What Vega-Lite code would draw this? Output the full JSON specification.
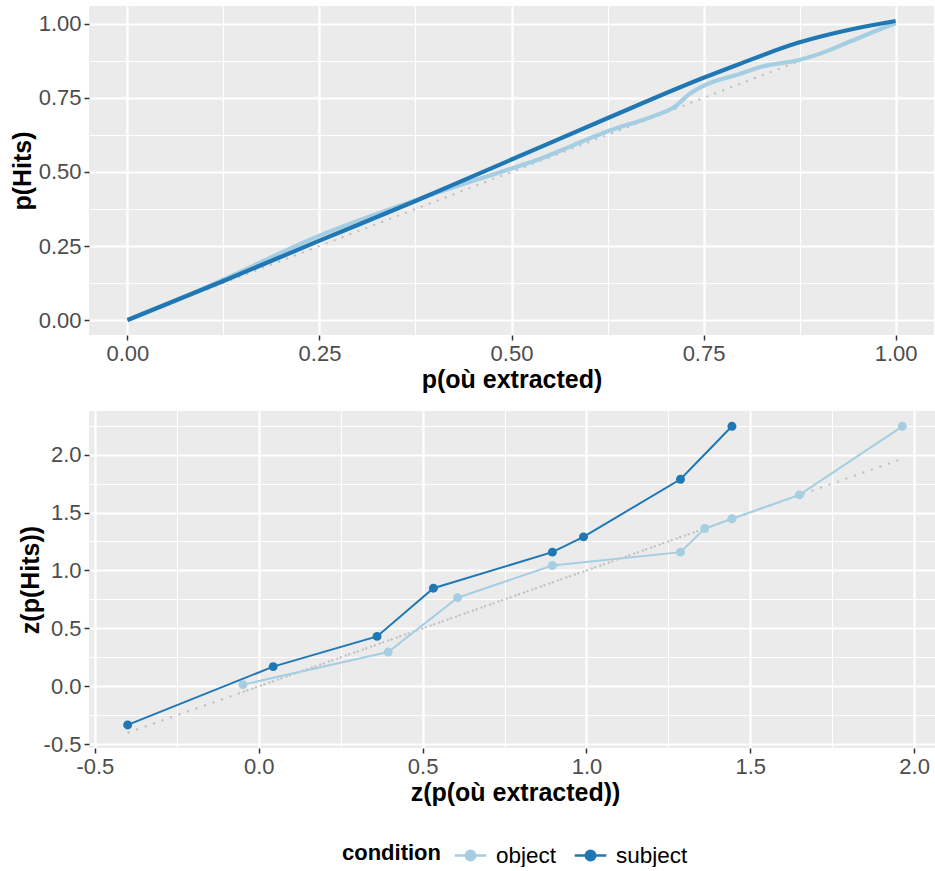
{
  "$schema": "https://vega.github.io/schema/vega-lite/v6.json",
  "padding": {"left": 10, "top": 6, "right": 0, "bottom": 0},
  "background": "white",
  "datasets": {
    "roc": [
      {"condition": "object", "x": 0.0, "y": 0.0},
      {"condition": "object", "x": 0.0625, "y": 0.066},
      {"condition": "object", "x": 0.125, "y": 0.137},
      {"condition": "object", "x": 0.25, "y": 0.285},
      {"condition": "object", "x": 0.375, "y": 0.405},
      {"condition": "object", "x": 0.5, "y": 0.512},
      {"condition": "object", "x": 0.536, "y": 0.543},
      {"condition": "object", "x": 0.58, "y": 0.59},
      {"condition": "object", "x": 0.627, "y": 0.639},
      {"condition": "object", "x": 0.683, "y": 0.687},
      {"condition": "object", "x": 0.714, "y": 0.723},
      {"condition": "object", "x": 0.731, "y": 0.762},
      {"condition": "object", "x": 0.75, "y": 0.791},
      {"condition": "object", "x": 0.796, "y": 0.83},
      {"condition": "object", "x": 0.822, "y": 0.853},
      {"condition": "object", "x": 0.874, "y": 0.878},
      {"condition": "object", "x": 0.9, "y": 0.898},
      {"condition": "object", "x": 0.943, "y": 0.943},
      {"condition": "object", "x": 0.974, "y": 0.976},
      {"condition": "object", "x": 1.0, "y": 1.002},
      {"condition": "subject", "x": 0.0, "y": 0.0},
      {"condition": "subject", "x": 0.125, "y": 0.132},
      {"condition": "subject", "x": 0.25, "y": 0.268},
      {"condition": "subject", "x": 0.375, "y": 0.402},
      {"condition": "subject", "x": 0.5, "y": 0.542},
      {"condition": "subject", "x": 0.627, "y": 0.684},
      {"condition": "subject", "x": 0.75, "y": 0.818},
      {"condition": "subject", "x": 0.796, "y": 0.864},
      {"condition": "subject", "x": 0.874, "y": 0.937},
      {"condition": "subject", "x": 0.943, "y": 0.982},
      {"condition": "subject", "x": 1.0, "y": 1.01}
    ],
    "diag": [
      {"x": 0.0, "y": 0.0},
      {"x": 1.0, "y": 1.0}
    ],
    "zroc": [
      {"condition": "object", "x": -0.048, "y": 0.015},
      {"condition": "object", "x": 0.395, "y": 0.296},
      {"condition": "object", "x": 0.607, "y": 0.765},
      {"condition": "object", "x": 0.896, "y": 1.043},
      {"condition": "object", "x": 1.287, "y": 1.158},
      {"condition": "object", "x": 1.361, "y": 1.362},
      {"condition": "object", "x": 1.444, "y": 1.446},
      {"condition": "object", "x": 1.65, "y": 1.652},
      {"condition": "object", "x": 1.964, "y": 2.244},
      {"condition": "subject", "x": -0.4, "y": -0.333},
      {"condition": "subject", "x": 0.044, "y": 0.17},
      {"condition": "subject", "x": 0.361, "y": 0.431},
      {"condition": "subject", "x": 0.533, "y": 0.847},
      {"condition": "subject", "x": 0.896, "y": 1.158},
      {"condition": "subject", "x": 0.991, "y": 1.29},
      {"condition": "subject", "x": 1.287, "y": 1.787},
      {"condition": "subject", "x": 1.444, "y": 2.244}
    ],
    "zdiag": [
      {"condition": "subject", "x": -0.4, "y": -0.4},
      {"condition": "subject", "x": 1.444, "y": 1.444},
      {"condition": "object", "x": -0.048, "y": -0.048},
      {"condition": "object", "x": 1.964, "y": 1.964}
    ]
  },
  "columns": 1,
  "align": "none",
  "spacing": 19,
  "resolve": {"scale": {"color": "shared"}},
  "concat": [
    {
      "width": 845,
      "height": 329,
      "encoding": {
        "x": {
          "field": "x", "type": "quantitative",
          "scale": {"domain": [-0.05, 1.05], "nice": false, "zero": false},
          "axis": {
            "title": "p(où extracted)",
            "values": [0, 0.125, 0.25, 0.375, 0.5, 0.625, 0.75, 0.875, 1.0],
            "labelExpr": "abs(datum.value*4 - round(datum.value*4)) < 0.001 ? format(datum.value, '.2f') : ''",
            "gridWidth": {"condition": {"test": "abs(datum.value*4 - round(datum.value*4)) < 0.001", "value": 2.2}, "value": 1.1},
            "tickOpacity": {"condition": {"test": "abs(datum.value*4 - round(datum.value*4)) < 0.001", "value": 1}, "value": 0}
          }
        },
        "y": {
          "field": "y", "type": "quantitative",
          "scale": {"domain": [-0.0505, 1.0605], "nice": false, "zero": false},
          "axis": {
            "title": "p(Hits)",
            "values": [0, 0.125, 0.25, 0.375, 0.5, 0.625, 0.75, 0.875, 1.0],
            "labelExpr": "abs(datum.value*4 - round(datum.value*4)) < 0.001 ? format(datum.value, '.2f') : ''",
            "gridWidth": {"condition": {"test": "abs(datum.value*4 - round(datum.value*4)) < 0.001", "value": 2.2}, "value": 1.1},
            "tickOpacity": {"condition": {"test": "abs(datum.value*4 - round(datum.value*4)) < 0.001", "value": 1}, "value": 0}
          }
        }
      },
      "layer": [
        {
          "data": {"name": "diag"},
          "mark": {"type": "line", "color": "#bdbdbd", "strokeWidth": 2, "strokeDash": [2, 6.5]},
          "encoding": {}
        },
        {
          "data": {"name": "roc"},
          "mark": {"type": "line", "strokeWidth": 4.2, "interpolate": "monotone"},
          "encoding": {
            "color": {
              "field": "condition", "type": "nominal",
              "scale": {"domain": ["object", "subject"], "range": ["#a6cee3", "#1f78b4"]},
              "legend": {
                "orient": "none", "legendX": 253, "legendY": 832, "direction": "horizontal",
                "title": "condition", "titleOrient": "left", "titleBaseline": "middle",
                "symbolType": "M-1,0H1M0.3,0A0.3,0.3,0,1,1,-0.3,0A0.3,0.3,0,1,1,0.3,0Z",
                "symbolSize": 1000, "symbolStrokeWidth": 2.5
              }
            }
          }
        }
      ]
    },
    {
      "width": 852,
      "height": 337,
      "encoding": {
        "x": {
          "field": "x", "type": "quantitative",
          "scale": {"domain": [-0.518, 2.082], "nice": false, "zero": false},
          "axis": {
            "title": "z(p(où extracted))",
            "values": [-0.5, -0.25, 0, 0.25, 0.5, 0.75, 1.0, 1.25, 1.5, 1.75, 2.0],
            "labelExpr": "abs(datum.value*2 - round(datum.value*2)) < 0.001 ? (datum.value < 0 ? '-' + format(-datum.value, '.1f') : format(datum.value, '.1f')) : ''",
            "gridWidth": {"condition": {"test": "abs(datum.value*2 - round(datum.value*2)) < 0.001", "value": 2.2}, "value": 1.1},
            "tickOpacity": {"condition": {"test": "abs(datum.value*2 - round(datum.value*2)) < 0.001", "value": 1}, "value": 0}
          }
        },
        "y": {
          "field": "y", "type": "quantitative",
          "scale": {"domain": [-0.532, 2.376], "nice": false, "zero": false},
          "axis": {
            "title": "z(p(Hits))",
            "titlePadding": 0,
            "values": [-0.5, -0.25, 0, 0.25, 0.5, 0.75, 1.0, 1.25, 1.5, 1.75, 2.0, 2.25],
            "labelExpr": "abs(datum.value*2 - round(datum.value*2)) < 0.001 ? (datum.value < 0 ? '-' + format(-datum.value, '.1f') : format(datum.value, '.1f')) : ''",
            "gridWidth": {"condition": {"test": "abs(datum.value*2 - round(datum.value*2)) < 0.001", "value": 2.2}, "value": 1.1},
            "tickOpacity": {"condition": {"test": "abs(datum.value*2 - round(datum.value*2)) < 0.001", "value": 1}, "value": 0}
          }
        }
      },
      "layer": [
        {
          "data": {"name": "zdiag"},
          "mark": {"type": "line", "color": "#bdbdbd", "strokeWidth": 2, "strokeDash": [2, 7]},
          "encoding": {"detail": {"field": "condition", "type": "nominal"}}
        },
        {
          "data": {"name": "zroc"},
          "mark": {"type": "line", "strokeWidth": 2},
          "encoding": {
            "color": {
              "field": "condition", "type": "nominal",
              "scale": {"domain": ["object", "subject"], "range": ["#a6cee3", "#1f78b4"]},
              "legend": {
                "orient": "none", "legendX": 253, "legendY": 832, "direction": "horizontal",
                "title": "condition", "titleOrient": "left", "titleBaseline": "middle",
                "symbolType": "M-1,0H1M0.3,0A0.3,0.3,0,1,1,-0.3,0A0.3,0.3,0,1,1,0.3,0Z",
                "symbolSize": 1000, "symbolStrokeWidth": 2.5
              }
            }
          }
        },
        {
          "data": {"name": "zroc"},
          "mark": {"type": "point", "filled": true, "size": 80, "opacity": 1},
          "encoding": {
            "color": {
              "field": "condition", "type": "nominal",
              "scale": {"domain": ["object", "subject"], "range": ["#a6cee3", "#1f78b4"]},
              "legend": {
                "orient": "none", "legendX": 253, "legendY": 832, "direction": "horizontal",
                "title": "condition", "titleOrient": "left", "titleBaseline": "middle",
                "symbolType": "M-1,0H1M0.3,0A0.3,0.3,0,1,1,-0.3,0A0.3,0.3,0,1,1,0.3,0Z",
                "symbolSize": 1000, "symbolStrokeWidth": 2.5
              }
            }
          }
        }
      ]
    }
  ],
  "config": {
    "font": "Liberation Sans",
    "view": {"fill": "#ebebeb", "stroke": null},
    "axis": {
      "domain": false,
      "gridColor": "#ffffff",
      "tickColor": "#333333",
      "tickSize": 5,
      "tickWidth": 1.5,
      "labelColor": "#4d4d4d",
      "labelFont": "Liberation Sans",
      "labelFontSize": 22,
      "labelPadding": 3,
      "labelOverlap": false,
      "labelFlush": false,
      "titleFont": "Liberation Sans",
      "titleFontSize": 25,
      "titleFontWeight": "bold",
      "titleColor": "#000000",
      "titlePadding": 3
    },
    "legend": {
      "labelFont": "Liberation Sans",
      "labelFontSize": 22.5,
      "labelColor": "#000000",
      "titleFont": "Liberation Sans",
      "titleFontSize": 22,
      "titleFontWeight": "bold",
      "titleColor": "#000000",
      "titlePadding": 12,
      "columnPadding": 12,
      "labelOffset": 8
    }
  }
}
